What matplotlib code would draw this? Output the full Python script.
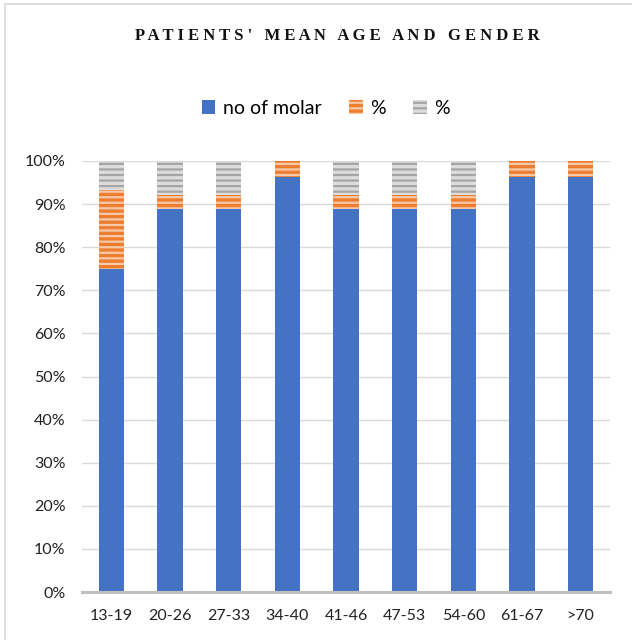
import matplotlib.pyplot as plt
import matplotlib.patches as mpatches
import numpy as np

# data (share of each bar, in %)
age_groups = ['13-19', '20-26', '27-33', '34-40', '41-46', '47-53', '54-60', '61-67', '>70']
molar_pct = [75.0, 88.9, 88.9, 96.4, 88.9, 88.9, 88.9, 96.4, 96.4]
pct_a = [18.3, 3.3, 3.3, 3.6, 3.3, 3.3, 3.3, 3.6, 3.6]
pct_b = [6.7, 7.8, 7.8, 0.0, 7.8, 7.8, 7.8, 0.0, 0.0]

BLUE = '#4472C4'
ORANGE = '#ED7D31'
ORANGE_LIGHT = '#F8C9A6'
GRAY = '#A5A5A5'
GRAY_LIGHT = '#DCDCDC'

plt.rcParams['font.family'] = ['Lato', 'DejaVu Sans']
plt.rcParams['hatch.linewidth'] = 1.6

fig = plt.figure(figsize=(6.32, 6.40), dpi=100)

# outer chart frame
frame = mpatches.Rectangle((5 / 632, -0.05), 1.2, 1 - 4 / 640 + 0.05, transform=fig.transFigure,
                           facecolor='none', edgecolor='#D9D9D9', linewidth=1.2)
fig.patches.append(frame)

ax = fig.add_axes([82 / 632, 48 / 640, 528 / 632, 431 / 640])

x = np.arange(len(age_groups))
w = 0.43
molar = np.array(molar_pct)
a = np.array(pct_a)
b = np.array(pct_b)

ax.bar(x, molar, w, color=BLUE, zorder=3, label='no of molar')
ax.bar(x, a, w, bottom=molar, facecolor=ORANGE, edgecolor=ORANGE_LIGHT, linewidth=0,
       hatch='---', zorder=3, label='%')
ax.bar(x, b, w, bottom=molar + a, facecolor=GRAY_LIGHT, edgecolor=GRAY, linewidth=0,
       hatch='---', zorder=3, label='%')

ax.set_xlim(-0.5, len(age_groups) - 0.5)
ax.set_ylim(0, 100)
ax.set_yticks(np.arange(0, 101, 10))
ax.set_yticklabels([f'{v}%' for v in range(0, 101, 10)])
ax.set_xticks(x)
ax.set_xticklabels(age_groups)
ax.tick_params(axis='both', length=0, labelsize=11.5, colors='#222222')
ax.tick_params(axis='x', pad=12)
ax.tick_params(axis='y', pad=12)
ax.grid(axis='y', color='#D9D9D9', linewidth=1, zorder=0)
for s in ['top', 'right', 'left']:
    ax.spines[s].set_visible(False)
ax.spines['bottom'].set_color('#BFBFBF')
ax.spines['bottom'].set_linewidth(2.2)
ax.spines['bottom'].set_zorder(4)

fig.text(337 / 632, 1 - 36 / 640, ' '.join("PATIENTS' MEAN AGE AND GENDER"),
         family=['Liberation Serif', 'DejaVu Serif'], fontweight='bold', fontsize=12,
         ha='center', va='center', color='#111111')

leg = fig.legend(loc='center', bbox_to_anchor=(326 / 632, 1 - 108 / 640), ncol=3, frameon=False,
                 fontsize=14, handlelength=0.7, handleheight=0.7, handletextpad=0.4,
                 columnspacing=1.4)

fig.savefig('out.png', dpi=100)
